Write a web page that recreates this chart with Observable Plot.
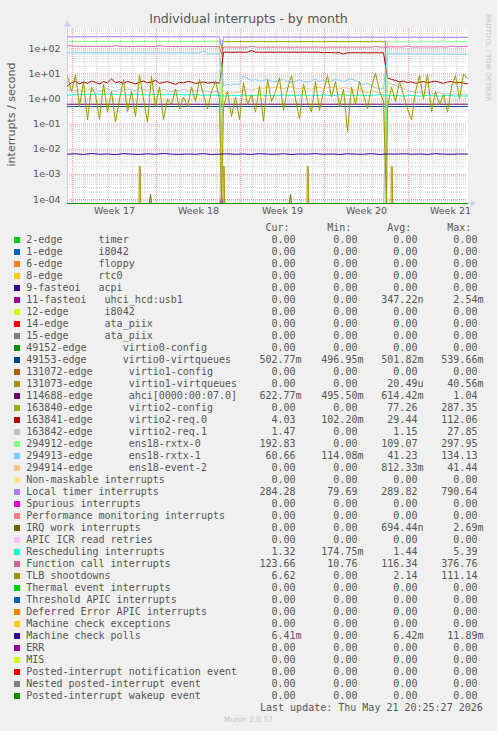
<!DOCTYPE html>
<html><head><meta charset="utf-8">
<script src="https://cdn.jsdelivr.net/npm/d3@7"></script>
<script src="https://cdn.jsdelivr.net/npm/@observablehq/plot@0.6"></script>
<style>
html,body{margin:0;padding:0;background:#f0f0f0;}
#root{position:relative;width:497px;height:731px;background:#f0f0f0;overflow:hidden;color:#555;}
.abs{position:absolute;white-space:pre;}
.mono{font-family:"DejaVu Sans Mono",monospace;font-size:10px;line-height:12px;}
.sans{font-family:"DejaVu Sans",sans-serif;}
</style></head><body>
<div id="root"></div>
<script>
// ---------------- legend data ----------------
const names = [
  "2-edge      timer","1-edge      i8042","6-edge      floppy","8-edge      rtc0",
  "9-fasteoi   acpi","11-fasteoi   uhci_hcd:usb1","12-edge      i8042","14-edge      ata_piix",
  "15-edge      ata_piix","49152-edge      virtio0-config","49153-edge      virtio0-virtqueues",
  "131072-edge      virtio1-config","131073-edge      virtio1-virtqueues","114688-edge      ahci[0000:00:07.0]",
  "163840-edge      virtio2-config","163841-edge      virtio2-req.0","163842-edge      virtio2-req.1",
  "294912-edge      ens18-rxtx-0","294913-edge      ens18-rxtx-1","294914-edge      ens18-event-2",
  "Non-maskable interrupts","Local timer interrupts","Spurious interrupts","Performance monitoring interrupts",
  "IRQ work interrupts","APIC ICR read retries","Rescheduling interrupts","Function call interrupts",
  "TLB shootdowns","Thermal event interrupts","Threshold APIC interrupts","Deferred Error APIC interrupts",
  "Machine check exceptions","Machine check polls","ERR","MIS","Posted-interrupt notification event",
  "Nested posted-interrupt event","Posted-interrupt wakeup event"
];
const palette = [
  "#00CC00","#0066B3","#FF8000","#FFCC00","#330099","#990099","#CCFF00","#FF0000","#808080","#008F00",
  "#00487D","#B35A00","#B38F00","#6B006B","#8FB300","#B30000","#BEBEBE","#80FF80","#80C9FF","#FFC080",
  "#FFE680","#AA80FF","#EE00CC","#FF8080","#666600","#FFBFFF","#00FFCC","#CC6699","#999900",
  "#00CC00","#0066B3","#FF8000","#FFCC00","#330099","#990099","#CCFF00","#FF0000","#808080","#008F00"
];
const curVals = ["0.00","0.00","0.00","0.00","0.00","0.00","0.00","0.00","0.00","0.00","502.77m","0.00","0.00","622.77m","0.00","4.03","1.47","192.83","60.66","0.00","0.00","284.28","0.00","0.00","0.00","0.00","1.32","123.66","6.62","0.00","0.00","0.00","0.00","6.41m","0.00","0.00","0.00","0.00","0.00"];
const minVals = ["0.00","0.00","0.00","0.00","0.00","0.00","0.00","0.00","0.00","0.00","496.95m","0.00","0.00","495.50m","0.00","102.20m","0.00","0.00","114.08m","0.00","0.00","79.69","0.00","0.00","0.00","0.00","174.75m","10.76","0.00","0.00","0.00","0.00","0.00","0.00","0.00","0.00","0.00","0.00","0.00"];
const avgVals = ["0.00","0.00","0.00","0.00","0.00","347.22n","0.00","0.00","0.00","0.00","501.82m","0.00","20.49u","614.42m","77.26","29.44","1.15","109.07","41.23","812.33m","0.00","289.82","0.00","0.00","694.44n","0.00","1.44","116.34","2.14","0.00","0.00","0.00","0.00","6.42m","0.00","0.00","0.00","0.00","0.00"];
const maxVals = ["0.00","0.00","0.00","0.00","0.00","2.54m","0.00","0.00","0.00","0.00","539.66m","0.00","40.56m","1.04","287.35","112.06","27.85","297.95","134.13","41.44","0.00","790.64","0.00","0.00","2.69m","0.00","5.39","376.76","111.14","0.00","0.00","0.00","0.00","11.89m","0.00","0.00","0.00","0.00","0.00"];

// ---------------- axis data ----------------
const weekStartHours = [10, 178, 346, 514, 682];
const weekLabelHours = [94, 262, 430, 598, 766];
const weekLabels = ["Week 17","Week 18","Week 19","Week 20","Week 21"];
const yTickValues = [1e-4, 1e-3, 1e-2, 1e-1, 1, 10, 100];
const yTickLabels = ["1e-04","1e-03","1e-02","1e-01","1e+00","1e+01","1e+02"];

// ---------------- series samples (8h steps; A: h0-304, B: h312-632, C: h640-800) ----------------
const tlbA = [8,2,9,0.5,5,0.15,3,1.5,0.15,4,0.3,2,0.12,1,6,0.3,2,0.2,9,1,0.12,8,0.5,3,0.15,1,0.6,2.5,0.4,1.2,0.5,3,0.8,6,1.5,0.4,2,5,1];
const tlbB = [0.5,2,0.2,1.2,0.15,4.5,0.6,1.5,0.3,3.3,0.13,6,0.8,2,7,0.35,2.5,8.5,1,0.16,4,0.8,0.3,5,0.35,2,8.5,1.2,5,0.5,2.5,0.05,3,0.6,5,1.5,0.4,3,11,2,0.8];
const tlbC = [0.5,3,0.8,5,1.5,0.4,0.15,2,8.5,1,9.5,0.3,2,0.6,1.5,0.3,3,8.5,1,10,6.62];
const fcA = [135,128,126,125,126,124,125,127,124,126,125,124,134,126,125,124,124,125,126,124,125,123,124,132,125,124,124,123,124,125,124,123,124,125,124,123,122,121,120];
const fcB = [118,117,116,117,116,117,116,125,117,116,116,117,116,116,117,116,117,116,116,117,116,117,116,117,117,116,116,117,116,117,116,117,116,116,117,116,117,116,125,117,116];
const fcC = [118,120,119,118,119,128,119,118,119,120,119,118,119,120,119,118,128,120,121,122,123.66];
const drA = [3.3,4.5,5,4,4.8,4.2,5.2,4.6,4,5,4.4,6.3,4.5,4.8,4.2,5,4.5,4,4.6,5.2,4.4,4.8,5.5,4.2,4.6,4.9,4.3,3.8,4.6,4.4,5,4.7,4.2,4.5,4.8,4.3,4.5,4.6,4.2];
const drB = [73,73,72,73,73,72,73,85,73,73,72,73,73,72,73,73,72,73,73,72,73,73,72,73,72,70,71,70,69,70,61,69,69,70,69,70,69,69,70,69,69];
const drC = [7,6,5.5,4.8,5.2,4.5,4.8,4.2,4.6,5,4.4,4.8,5.2,4.6,4.2,4.8,5,4.4,4.6,4.3,4.03];
const lbA = [69,69,69,68,69,69,69,68,69,69,68,69,69,69,68,69,69,68,69,69,68,68,69,69,68,69,68,68,69,68,68,67,68,68,85,64,63,63,63];
const lbB = [3.4,3.8,3.6,4,3.8,8.5,6.5,5.5,6,5,5.5,6,5.2,4.8,5.5,6,5,4.6,5.2,5.8,5,4.5,5.4,6.2,5,5.5,4.8,5.2,6,5.6,5,5.8,6.2,5.4,4.5,3.8,4.2,3.6,2.8,2.6,2.5];
const lbC = [64,63,63,62,63,62,63,62,62,63,62,62,61,62,62,61,62,61,61,61,60.66];
const pkB = [1.6,1.8,1.7,1.8,1.9,2.2,2.4,2.2,2.5,2.8,2.6,2.9,2.7,3,2.8,2.6,2.9,3.1,2.7,2.5,2.8,2.6,2.4,2.7,2.9,2.6,2.8,3,2.7,2.5,2.9,2.7,2.4,2.2,2.5,2,1.8,2.2,1.9,1.7,1.8];
const gyA = [2.2,2.4,2.1,2.3,2,2.5,2.2,2.4,2.1,2.3,2.6,2.2,2,2.4,2.2,2.5,2.3,2.1,2.8,2.4,2.2,2.6,2.3,2.1,2.4,2.2,2,2.3,2.1,2.5,2.2,2.4,2.1,2.3,2.2,2,1.9,2.1,1.9];
const gyC = [4.5,4,3.5,3,2.6,2.2,2,1.8,1.9,1.7,1.8,1.6,1.7,1.8,1.6,1.7,1.5,1.6,1.5,1.6,1.47];
const rsA = [1.4,1.45,1.5,1.55,1.5,1.55,1.5,1.6,1.55,1.5,1.55,1.6,1.5,1.55,1.5,1.45,1.5,1.55,1.5,1.5,1.45,1.5,1.55,1.5,1.45,1.5,1.5,1.45,1.5,1.45,1.5,1.45,1.5,1.45,1.4,1.45,1.4,1.45,1.4];
const rsB = [1.3,1.35,1.4,1.35,1.4,1.45,1.4,1.35,1.4,1.45,1.4,1.35,1.4,1.35,1.4,1.45,1.4,1.4,1.35,1.4,1.45,1.4,1.35,1.4,1.4,1.45,1.4,1.35,1.4,1.45,1.5,1.4,1.35,1.4,1.45,1.4,1.35,1.4,1.45,1.5,1.45];
const rsC = [1.4,1.35,1.4,1.35,1.3,1.35,1.4,1.35,1.3,1.35,1.4,1.35,1.35,1.3,1.35,1.4,1.35,1.3,1.35,1.3,1.32];
// machine check polls, 16h steps, in milli
const mcPollsMilli = [6.4,6.6,6.2,6.8,6.3,6.5,6.1,6.7,6.4,6.2,6.6,6.3,6.8,6.4,6.2,6.5,6.3,6.7,6.2,6.4,6.6,6.3,6.5,6.2,6.7,6.4,6.3,6.6,6.2,6.5,6.4,6.7,6.3,6.5,6.2,6.6,6.4,6.3,6.7,6.2,6.5,6.4,6.6,6.3,6.5,6.2,6.7,6.4,6.3,6.5,6.41];
// step-like series as [hour, value]
const localTimer = [[0,300],[120,302],[304,298],[308,110],[312,292],[500,290],[800,284.28]];
const virtio2Config = [[0,0],[308,0],[310,192],[636,192],[638,0],[800,0]];
const rxtx0 = [[0,196],[304,196],[308,0],[636,0],[640,190],[748,190],[752,225],[756,190],[800,192.83]];
const ahci = [[0,0.62],[800,0.6228]];
const virtio0 = [[0,0.5],[800,0.5028]];
// spikes
const virtio1SpikeHours = [144, 312, 480, 648];
const virtio1SpikeValues = [0.0021, 0.0021, 0.0021, 0.0021];
const irqWorkSpikeHours = [166, 446];
const irqWorkSpikeValues = [1.6e-4, 1.6e-4];
const uhciSpikeHours = [308];
const uhciSpikeValues = [1.4e-4];

// ---------------- build series ----------------
const seg = (start, step, vals) => vals.map((v, i) => [start + step * i, v]);
const zero = [[0, 0], [800, 0]];
const pulses = (hours, vals) => {
  const out = [[0, 0]];
  hours.forEach((h, i) => { out.push([h - 1, 0], [h - 0.5, vals[i]], [h + 1.5, vals[i]], [h + 2, 0]); });
  out.push([800, 0]); return out;
};
const tri = (hours, vals) => {
  const out = [[0, 0]];
  hours.forEach((h, i) => { out.push([h - 2, 0], [h, vals[i]], [h + 2, 0]); });
  out.push([800, 0]); return out;
};
const series = names.map(() => zero);
series[5] = tri(uhciSpikeHours, uhciSpikeValues);
series[10] = virtio0;
series[12] = pulses(virtio1SpikeHours, virtio1SpikeValues);
series[13] = ahci;
series[14] = virtio2Config;
series[15] = [...seg(0, 8, drA), ...seg(312, 8, drB), ...seg(640, 8, drC)];
series[16] = [...seg(0, 8, gyA), [308, 0], [632, 0], ...seg(640, 8, gyC)];
series[17] = rxtx0;
series[18] = [...seg(0, 8, lbA), ...seg(312, 8, lbB), ...seg(640, 8, lbC)];
series[19] = [[0, 0], [304, 0], ...seg(312, 8, pkB), [638, 0], [800, 0]];
series[21] = localTimer;
series[24] = tri(irqWorkSpikeHours, irqWorkSpikeValues);
series[26] = [...seg(0, 8, rsA), ...seg(312, 8, rsB), ...seg(640, 8, rsC)];
series[27] = [...seg(0, 8, fcA), [308, 60], ...seg(312, 8, fcB), ...seg(640, 8, fcC)];
series[28] = [...seg(0, 8, tlbA), [308, 0], ...seg(312, 8, tlbB), [638, 0], ...seg(640, 8, tlbC)];
series[33] = seg(0, 16, mcPollsMilli.map(v => v * 1e-3));

// ---------------- chart ----------------
const yDomain = [Math.pow(10, -4.159), Math.pow(10, 2.807)];
const dayHours = d3.range(10, 800, 24).filter(h => !weekStartHours.includes(h));
const minorY = [];
for (let e = -5; e <= 2; e++) for (let m = 2; m <= 9; m++) {
  const v = m * Math.pow(10, e);
  if (v > yDomain[0] && v < yDomain[1]) minorY.push(v);
}
const axisColor = "#c8d0f8";
const gridMinor = {stroke: "#d4d4d4", strokeDasharray: "1,1", strokeWidth: 1};
const gridMajor = {stroke: "#f0a0a0", strokeDasharray: "1,1", strokeWidth: 1};
const FLOOR = 1e-9;

const chart = Plot.plot({
  width: 497, height: 222,
  marginLeft: 67, marginRight: 30, marginTop: 28, marginBottom: 19,
  style: {background: "transparent", fontFamily: "DejaVu Sans", fontSize: "9.5px", color: "#555", overflow: "visible"},
  x: {type: "linear", domain: [0, 800]},
  y: {type: "log", domain: yDomain, clamp: true},
  marks: [
    Plot.frame({fill: "white", stroke: "none"}),
    Plot.ruleX(dayHours, gridMinor),
    Plot.ruleY(minorY, gridMinor),
    Plot.ruleX(weekStartHours, gridMajor),
    Plot.ruleY(yTickValues, gridMajor),
    Plot.ruleY([yDomain[0]], {stroke: axisColor, insetLeft: -1, insetRight: -3}),
    Plot.ruleX([0], {stroke: axisColor, insetTop: -4, insetBottom: -1}),
    ...series.map((pts, i) => Plot.line(pts, {
      x: d => d[0], y: d => Math.max(d[1], FLOOR), stroke: palette[i], strokeWidth: 1
    })),
    Plot.dot([{x: 800, y: yDomain[0]}], {x: "x", y: "y", symbol: "triangle", r: 2.6, fill: axisColor, stroke: "none", rotate: 90, dx: 5}),
    Plot.dot([{x: 0, y: yDomain[1]}], {x: "x", y: "y", symbol: "triangle", r: 2.6, fill: axisColor, stroke: "none", dy: -4}),
    Plot.axisY(yTickValues, {tickFormat: d => yTickLabels[yTickValues.indexOf(d)], tickSize: 0, tickPadding: 7, label: null}),
    Plot.axisX(weekLabelHours, {tickFormat: d => weekLabels[weekLabelHours.indexOf(d)], tickSize: 0, tickPadding: 4, label: null})
  ]
});

// ---------------- page layout ----------------
const root = document.getElementById("root");
function add(cls, style, text) {
  const d = document.createElement("div");
  d.className = cls; Object.assign(d.style, style);
  if (text != null) d.textContent = text;
  root.appendChild(d); return d;
}
const holder = add("abs", {left: "0px", top: "0px"});
holder.appendChild(chart);

add("abs sans", {left: "0px", top: "11px", width: "497px", textAlign: "center", fontSize: "12.5px", lineHeight: "16px", color: "#555"}, "Individual interrupts - by month");
add("abs sans", {left: "-69px", top: "107.5px", width: "160px", textAlign: "center", fontSize: "11px", lineHeight: "13px", transform: "rotate(-90deg)", color: "#555"}, "interrupts / second");
add("abs sans", {left: "484px", top: "14px", fontSize: "6.8px", lineHeight: "8px", writingMode: "vertical-rl", color: "#c4c4c4"}, "RRDTOOL / TOBI OETIKER");

const fieldX = [259.5, 321.3, 381.3, 441.3];
["Cur:", "Min:", "Avg:", "Max:"].forEach((h, k) => add("abs mono", {left: (fieldX[k] + 6) + "px", top: "221.8px"}, h));
const fmt = s => {
  const last = s[s.length - 1];
  const hasPrefix = /[a-zA-Z]/.test(last);
  const num = hasPrefix ? s.slice(0, -1) : s;
  return num.padStart(6, " ") + (hasPrefix ? last : " ");
};
names.forEach((n, i) => {
  const top = 233.8 + i * 12.01;
  add("abs", {left: "14px", top: (top + 2.9) + "px", width: "6px", height: "6px", background: palette[i]});
  add("abs mono", {left: "26.3px", top: top + "px"}, n);
  [curVals, minVals, avgVals, maxVals].forEach((arr, k) => add("abs mono", {left: fieldX[k] + "px", top: top + "px"}, fmt(arr[i])));
});
add("abs mono", {left: "260px", top: "702px"}, "Last update: Thu May 21 20:25:27 2026");
add("abs sans", {left: "0px", top: "714.5px", width: "497px", textAlign: "center", fontSize: "7.5px", lineHeight: "10px", color: "#c4c4c4"}, "Munin 2.0.57");
</script>
</body></html>
